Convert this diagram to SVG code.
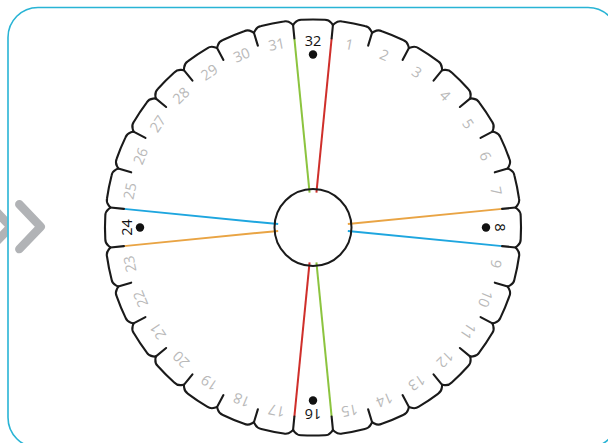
<svg xmlns="http://www.w3.org/2000/svg" xmlns:xlink="http://www.w3.org/1999/xlink" width="608" height="443" viewBox="0 0 608 443">
<style>
.ol{fill:none;stroke:#1a1a1a;stroke-width:2.1;stroke-linejoin:round;stroke-linecap:round}
.n{font-family:"Open Sans","Noto Sans",sans-serif;font-size:14.5px;fill:#b9b9b9;text-anchor:middle}
.b{font-family:"Open Sans","Noto Sans",sans-serif;font-size:14.5px;font-weight:500;fill:#111;text-anchor:middle}
.dot{fill:#111}
.cn{stroke-width:2;fill:none}
.chev{fill:none;stroke:#b1b3b6;stroke-width:8.5;stroke-linecap:round;stroke-linejoin:round}
</style>
<defs>
<clipPath id="clipL"><rect x="-20" y="180" width="27.3" height="100"/></clipPath>
<g id="bump">
<path class="ol" d="M293.05 24.98 L294.7 22.9 Q297.4 19.6 301.5 19.8 A208 208 0 0 1 324.5 19.8 Q328.6 19.6 331.3 22.9 L332.95 24.98"/>
<path class="ol" d="M293.05 24.98 L294.38 38.41"/>
</g>
</defs>
<rect width="608" height="443" fill="#fff"/>
<g id="chevrons">
<path class="chev" clip-path="url(#clipL)" d="M-10.7 204.3 L10.7 226.7 L-10.7 249.1"/>
<path class="chev" d="M19.3 204.3 L40.7 226.7 L19.3 249.1"/>
</g>
<rect id="frame" x="8" y="7.5" width="610" height="440" rx="30" fill="none" stroke="#29b4d5" stroke-width="1.6"/>
<g id="connectors">
<g stroke="#8cc43f" class="cn">
<line x1="313" y1="37.5" x2="313" y2="192.5" transform="rotate(-5.625 313 227.5)"/>
<line x1="313" y1="37.5" x2="313" y2="192.5" transform="rotate(174.375 313 227.5)"/>
</g>
<g stroke="#cf2f2b" class="cn">
<line x1="313" y1="37.5" x2="313" y2="192.5" transform="rotate(5.625 313 227.5)"/>
<line x1="313" y1="37.5" x2="313" y2="192.5" transform="rotate(185.625 313 227.5)"/>
</g>
<g stroke="#1ea6df" class="cn">
<line x1="313" y1="37.5" x2="313" y2="192.5" transform="rotate(-84.375 313 227.5)"/>
<line x1="313" y1="37.5" x2="313" y2="192.5" transform="rotate(95.625 313 227.5)"/>
</g>
<g stroke="#e9a444" class="cn">
<line x1="313" y1="37.5" x2="313" y2="192.5" transform="rotate(-95.625 313 227.5)"/>
<line x1="313" y1="37.5" x2="313" y2="192.5" transform="rotate(84.375 313 227.5)"/>
</g>
</g>
<g id="hub"><circle cx="313" cy="227.5" r="38.5" fill="none" stroke="#1a1a1a" stroke-width="2"/></g>
<g id="s1" transform="rotate(11.25 313 227.5)"><use xlink:href="#bump"/><text class="n" x="313" y="46">1</text></g>
<g id="s2" transform="rotate(22.5 313 227.5)"><use xlink:href="#bump"/><text class="n" x="313" y="46">2</text></g>
<g id="s3" transform="rotate(33.75 313 227.5)"><use xlink:href="#bump"/><text class="n" x="313" y="46">3</text></g>
<g id="s4" transform="rotate(45 313 227.5)"><use xlink:href="#bump"/><text class="n" x="313" y="46">4</text></g>
<g id="s5" transform="rotate(56.25 313 227.5)"><use xlink:href="#bump"/><text class="n" x="313" y="46">5</text></g>
<g id="s6" transform="rotate(67.5 313 227.5)"><use xlink:href="#bump"/><text class="n" x="313" y="46">6</text></g>
<g id="s7" transform="rotate(78.75 313 227.5)"><use xlink:href="#bump"/><text class="n" x="313" y="46">7</text></g>
<g id="s8" transform="rotate(90 313 227.5)"><use xlink:href="#bump"/><text class="b" x="313" y="46">8</text><circle class="dot" cx="313" cy="54.5" r="4.2"/></g>
<g id="s9" transform="rotate(101.25 313 227.5)"><use xlink:href="#bump"/><text class="n" x="313" y="46">9</text></g>
<g id="s10" transform="rotate(112.5 313 227.5)"><use xlink:href="#bump"/><text class="n" x="313" y="46">10</text></g>
<g id="s11" transform="rotate(123.75 313 227.5)"><use xlink:href="#bump"/><text class="n" x="313" y="46">11</text></g>
<g id="s12" transform="rotate(135 313 227.5)"><use xlink:href="#bump"/><text class="n" x="313" y="46">12</text></g>
<g id="s13" transform="rotate(146.25 313 227.5)"><use xlink:href="#bump"/><text class="n" x="313" y="46">13</text></g>
<g id="s14" transform="rotate(157.5 313 227.5)"><use xlink:href="#bump"/><text class="n" x="313" y="46">14</text></g>
<g id="s15" transform="rotate(168.75 313 227.5)"><use xlink:href="#bump"/><text class="n" x="313" y="46">15</text></g>
<g id="s16" transform="rotate(180 313 227.5)"><use xlink:href="#bump"/><text class="b" x="313" y="46">16</text><circle class="dot" cx="313" cy="54.5" r="4.2"/></g>
<g id="s17" transform="rotate(191.25 313 227.5)"><use xlink:href="#bump"/><text class="n" x="313" y="46">17</text></g>
<g id="s18" transform="rotate(202.5 313 227.5)"><use xlink:href="#bump"/><text class="n" x="313" y="46">18</text></g>
<g id="s19" transform="rotate(213.75 313 227.5)"><use xlink:href="#bump"/><text class="n" x="313" y="46">19</text></g>
<g id="s20" transform="rotate(225 313 227.5)"><use xlink:href="#bump"/><text class="n" x="313" y="46">20</text></g>
<g id="s21" transform="rotate(236.25 313 227.5)"><use xlink:href="#bump"/><text class="n" x="313" y="46">21</text></g>
<g id="s22" transform="rotate(247.5 313 227.5)"><use xlink:href="#bump"/><text class="n" x="313" y="46">22</text></g>
<g id="s23" transform="rotate(258.75 313 227.5)"><use xlink:href="#bump"/><text class="n" x="313" y="46">23</text></g>
<g id="s24" transform="rotate(270 313 227.5)"><use xlink:href="#bump"/><text class="b" x="313" y="46">24</text><circle class="dot" cx="313" cy="54.5" r="4.2"/></g>
<g id="s25" transform="rotate(281.25 313 227.5)"><use xlink:href="#bump"/><text class="n" x="313" y="46">25</text></g>
<g id="s26" transform="rotate(292.5 313 227.5)"><use xlink:href="#bump"/><text class="n" x="313" y="46">26</text></g>
<g id="s27" transform="rotate(303.75 313 227.5)"><use xlink:href="#bump"/><text class="n" x="313" y="46">27</text></g>
<g id="s28" transform="rotate(315 313 227.5)"><use xlink:href="#bump"/><text class="n" x="313" y="46">28</text></g>
<g id="s29" transform="rotate(326.25 313 227.5)"><use xlink:href="#bump"/><text class="n" x="313" y="46">29</text></g>
<g id="s30" transform="rotate(337.5 313 227.5)"><use xlink:href="#bump"/><text class="n" x="313" y="46">30</text></g>
<g id="s31" transform="rotate(348.75 313 227.5)"><use xlink:href="#bump"/><text class="n" x="313" y="46">31</text></g>
<g id="s32"><use xlink:href="#bump"/><text class="b" x="313" y="46">32</text><circle class="dot" cx="313" cy="54.5" r="4.2"/></g>
</svg>
